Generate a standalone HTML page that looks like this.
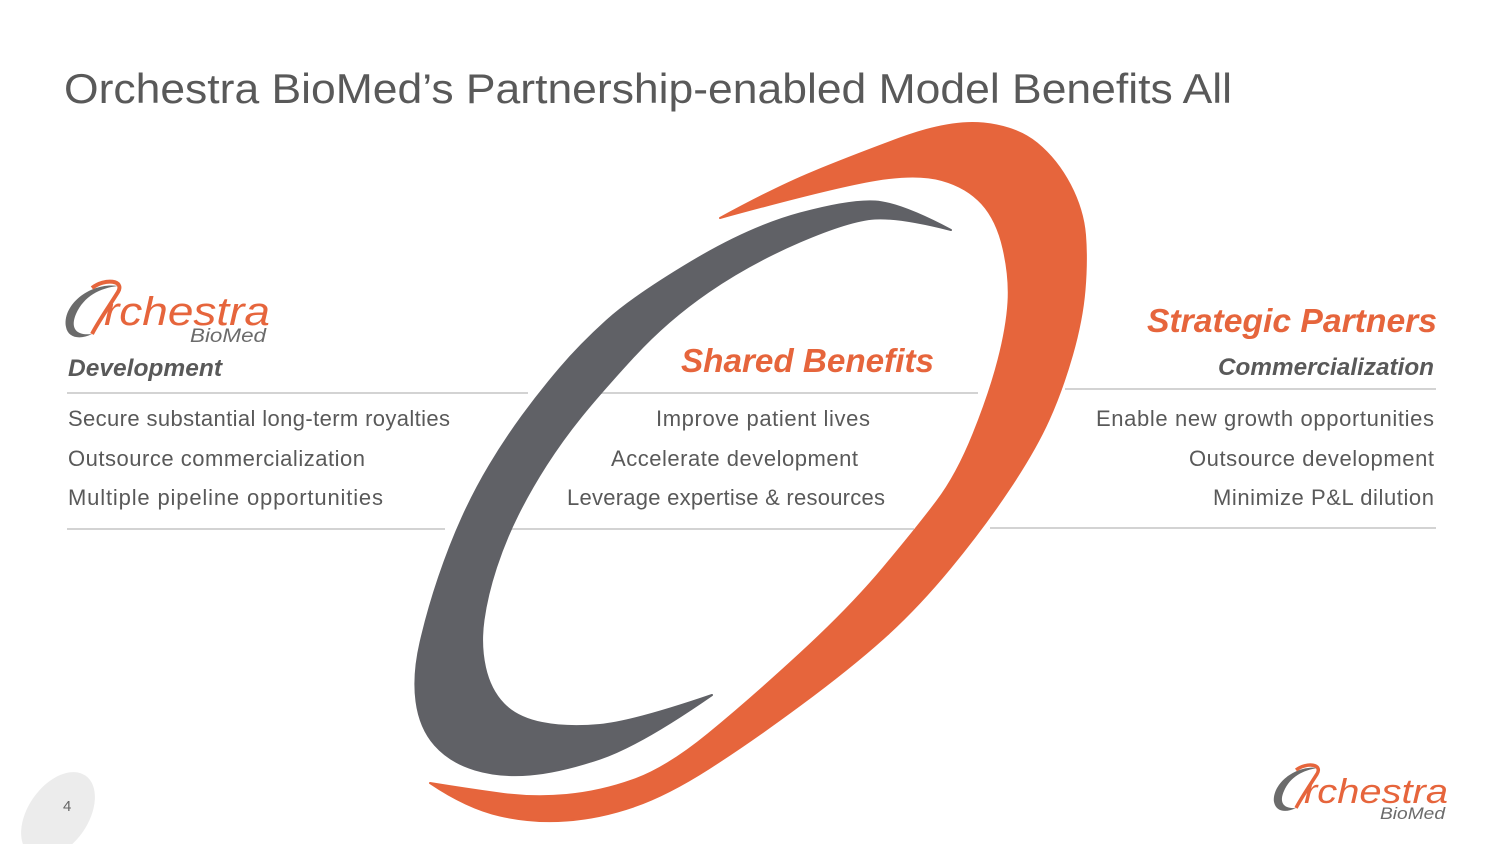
<!DOCTYPE html>
<html><head><meta charset="utf-8"><style>html,body{margin:0;padding:0;background:#fff}svg{display:block}</style></head><body>
<svg width="1500" height="844" viewBox="0 0 1500 844" xmlns="http://www.w3.org/2000/svg" font-family="Liberation Sans, DejaVu Sans, sans-serif">
<rect width="1500" height="844" fill="#fff"/>
<ellipse cx="58" cy="815" rx="30" ry="48" transform="rotate(35 58 815)" fill="#ececec"/>
<text x="63" y="811" font-size="15" fill="#666">4</text>
<text x="64" y="103" font-size="42" fill="#595959" textLength="1168" lengthAdjust="spacingAndGlyphs">Orchestra BioMed’s Partnership-enabled Model Benefits All</text>

<g stroke="#d3d3d3" stroke-width="2">
<line x1="67" y1="393" x2="528" y2="393"/><line x1="600" y1="393" x2="978" y2="393"/><line x1="1065" y1="389" x2="1436" y2="389"/>
<line x1="67" y1="529" x2="445" y2="529"/><line x1="509" y1="529" x2="914" y2="529"/><line x1="990" y1="528" x2="1436" y2="528"/>
</g>

<path d="M720,218 Q775,188 812.5,172.5 Q850,157 900,138.5 Q950,120 983.5,123.5 Q1017,127 1037,143.5 Q1057,160 1070,185 Q1083,210 1085,235 Q1087,260 1084.5,290 Q1082,320 1072,355 Q1062,390 1048.5,420 Q1035,450 1009,489 Q983,528 950,568 Q917,608 883.5,638 Q850,668 800,705 Q750,742 708.5,768.5 Q667,795 633.5,806.5 Q600,818 566.5,820.5 Q533,823 500,815.5 Q467,808 430,783 Q467,789 500,793.5 Q533,798 566.5,795 Q600,792 633.5,780 Q667,768 708.5,734 Q750,700 800,654 Q850,608 883.5,568 Q917,528 937,501.5 Q957,475 973.5,434 Q990,393 998.5,360 Q1007,327 1008.5,302 Q1010,277 1003.5,248.5 Q997,220 982,203.5 Q967,187 942,180 Q917,173 875,180 Q833,187 720,218 Z" fill="#e6653c" stroke="#e6653c" stroke-width="2" stroke-linejoin="round"/>
<path d="M951,230 Q900,203 875,201.5 Q850,200 800,213.5 Q750,227 691.5,262 Q633,297 606.5,321 Q580,345 560,368.5 Q540,392 522.5,416 Q505,440 490,465 Q475,490 462.5,517.5 Q450,545 439,577.5 Q428,610 420.5,642.5 Q413,675 416.5,701.5 Q420,728 435,745 Q450,762 475,769.5 Q500,777 530,774.5 Q560,772 600,758.5 Q640,745 712,695 Q633,722 600,725 Q567,728 542,723 Q517,718 503.5,704 Q490,690 485,667.5 Q480,645 483.5,620 Q487,595 496,567.5 Q505,540 517.5,515 Q530,490 546,465 Q562,440 581,416.5 Q600,393 633.5,356.5 Q667,320 708.5,291.5 Q750,263 800,241.5 Q850,220 875,218.5 Q900,217 951,230 Z" fill="#606166" stroke="#606166" stroke-width="2" stroke-linejoin="round"/>

<g>
<path d="M118,286 C90,282 62,305 66,327 C68,338 80,340 92,334 C76,336 70,328 76,314 C84,296 100,288 118,286 Z" fill="#6b6b6b"/>
<path d="M92,288 C105,278 125,280 118,292 C110,305 98,322 92,334" fill="none" stroke="#e6653c" stroke-width="4"/>
<text x="104" y="325" font-size="40" font-style="italic" fill="#e6653c" textLength="166" lengthAdjust="spacingAndGlyphs">rchestra</text>
<text x="190" y="342" font-size="19" font-style="italic" fill="#6b6b6b" textLength="76" lengthAdjust="spacingAndGlyphs">BioMed</text>
</g>
<text x="68" y="376" font-size="24" font-weight="bold" font-style="italic" fill="#595959" textLength="154" lengthAdjust="spacingAndGlyphs">Development</text>
<g font-size="22" fill="#595959" lengthAdjust="spacingAndGlyphs">
<text x="68" y="426" textLength="382">Secure substantial long-term royalties</text>
<text x="68" y="466" textLength="297">Outsource commercialization</text>
<text x="68" y="505" textLength="315">Multiple pipeline opportunities</text>
<text x="656" y="426" textLength="214">Improve patient lives</text>
<text x="611" y="466" textLength="247">Accelerate development</text>
<text x="567" y="505" textLength="318">Leverage expertise &amp; resources</text>
<text x="1096" y="426" textLength="338">Enable new growth opportunities</text>
<text x="1189" y="466" textLength="245">Outsource development</text>
<text x="1213" y="505" textLength="221">Minimize P&amp;L dilution</text>
</g>
<text x="681" y="372" font-size="33" font-weight="bold" font-style="italic" fill="#e6653c" textLength="253" lengthAdjust="spacingAndGlyphs">Shared Benefits</text>
<text x="1147" y="332" font-size="33" font-weight="bold" font-style="italic" fill="#e6653c" textLength="290" lengthAdjust="spacingAndGlyphs">Strategic Partners</text>
<text x="1218" y="375" font-size="24" font-weight="bold" font-style="italic" fill="#595959" textLength="216" lengthAdjust="spacingAndGlyphs">Commercialization</text>

<g>
<path d="M1318,768 C1295,765 1272,784 1274,802 C1276,812 1286,813 1296,808 C1283,809 1279,802 1284,791 C1290,777 1303,770 1318,768 Z" fill="#6b6b6b"/>
<path d="M1296,770 C1307,762 1323,764 1317,774 C1310,785 1300,800 1296,808" fill="none" stroke="#e6653c" stroke-width="3.5"/>
<text x="1304" y="803" font-size="34" font-style="italic" fill="#e6653c" textLength="144" lengthAdjust="spacingAndGlyphs">rchestra</text>
<text x="1380" y="819" font-size="17" font-style="italic" fill="#6b6b6b" textLength="65" lengthAdjust="spacingAndGlyphs">BioMed</text>
</g>
</svg>
</body></html>
